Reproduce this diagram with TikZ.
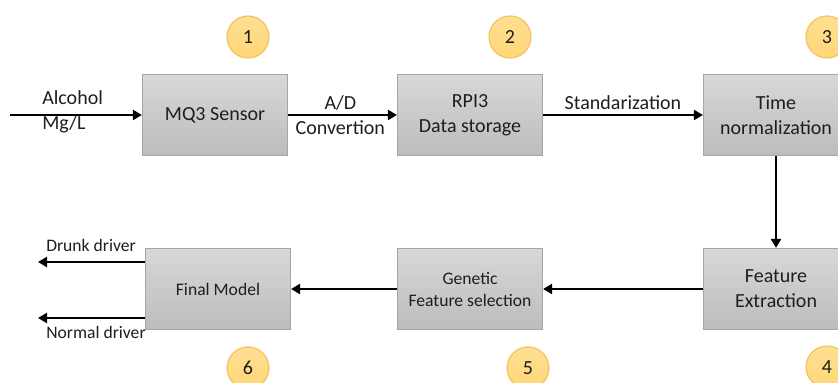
\documentclass[tikz,border=0pt]{standalone}
\usepackage{fontspec}
\setmainfont{Carlito}
\usetikzlibrary{arrows.meta, positioning, shapes.geometric, calc}
\definecolor{cboxtop}{HTML}{D8D8D8}
\definecolor{cboxbot}{HTML}{BCBCBC}
\definecolor{cboxline}{HTML}{A6A6A6}
\definecolor{cbadge}{HTML}{FFD777}
\definecolor{cbadgeline}{HTML}{F2C461}
\definecolor{ctext}{HTML}{1E1E1E}
\tikzset{
  every picture/.style={line width=1.25pt},
  box/.style={draw=cboxline, line width=0.6pt, top color=cboxtop, bottom color=cboxbot,
    align=center, inner sep=0pt, minimum width=72.5pt, minimum height=40.5pt, text=ctext},
  big/.style={font=\fontsize{10}{12.5}\selectfont},
  small/.style={font=\fontsize{8.8}{11}\selectfont},
  badge/.style={circle, draw=cbadgeline, line width=0.6pt, top color=cbadge!80!white, bottom color=cbadge,
    minimum size=21pt, inner sep=0pt, font=\fontsize{10}{12}\selectfont, text=ctext},
  arrow/.style={-{Triangle[length=4.5pt, width=5pt]}, draw=black, line width=1.25pt},
  lbl/.style={text=ctext, align=center, inner sep=1pt},
}

\begin{document}
\begin{tikzpicture}[x=10pt, y=10pt]
  \useasboundingbox (0,0) rectangle (41.9,-19.15);

  % top row
  \node[box, big] (mq) at (10.75,-5.75) {MQ3 Sensor};
  \node[box, big] (rpi) at (23.5,-5.75) {RPI3\\Data storage};
  \node[box, big] (tnorm) at (38.8,-5.75) {Time\\normalization};

  % bottom row
  \node[box, big] (fext) at (38.8,-14.45) {Feature\\Extraction};
  \node[box, small] (gen) at (23.5,-14.45) {Genetic\\Feature selection};
  \node[box, small] (final) at (10.9,-14.45) {Final Model};

  % step numbers
  \node[badge] (n1) at (12.4,-1.85) {1};
  \node[badge] (n2) at (25.5,-1.85) {2};
  \node[badge] (n3) at (41.35,-1.85) {3};
  \node[badge] (n4) at (41.35,-18.35) {4};
  \node[badge] (n5) at (26.4,-18.4) {5};
  \node[badge] (n6) at (12.4,-18.4) {6};

  % input and outputs
  \coordinate (src) at (0.5,-5.75);
  \coordinate (drunk) at (1.9,-13.1);
  \coordinate (normal) at (1.9,-15.9);
  \node[lbl, big, align=left, anchor=west] (alc) at (1.95,-5.6) {Alcohol\\Mg/L};
  \node[lbl, small, anchor=west] (dlbl) at (2.15,-12.25) {Drunk driver};
  \node[lbl, small, anchor=west] (nlbl) at (2.15,-16.6) {Normal driver};

  % flow
  \draw[arrow] (src) -- (mq);
  \draw[arrow] (mq) -- node[lbl, big, pos=0.48] (ad) {A/D\\Convertion} (rpi);
  \draw[arrow] (rpi) -- node[lbl, big, above=1pt] (std) {Standarization} (tnorm);
  \draw[arrow] (tnorm.south -| 38.8,0) -- (fext.north -| 38.8,0);
  \draw[arrow] (fext) -- (gen);
  \draw[arrow] (gen) -- (final);
  \draw[arrow] (final.west |- drunk) -- (drunk);
  \draw[arrow] (final.west |- normal) -- (normal);
\end{tikzpicture}
\end{document}
